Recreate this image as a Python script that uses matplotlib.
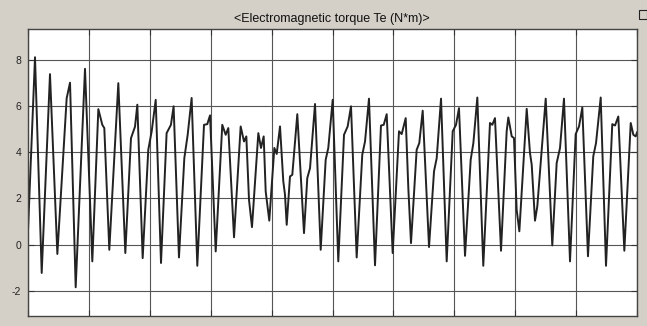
import matplotlib
matplotlib.use("Agg")
import matplotlib.pyplot as plt
from matplotlib.patches import Rectangle

title = "<Electromagnetic torque Te (N*m)>"

t = [0.000, 0.115, 0.225, 0.361, 0.482, 0.635, 0.690, 0.783, 0.936, 1.056,
     1.155, 1.220, 1.253, 1.335, 1.483, 1.598, 1.691, 1.757, 1.795, 1.883,
     1.975, 2.031, 2.097, 2.184, 2.276, 2.347, 2.391, 2.479, 2.567, 2.622,
     2.687, 2.780, 2.890, 2.944, 2.989, 3.082, 3.190, 3.246, 3.289, 3.383,
     3.492, 3.547, 3.585, 3.629, 3.678, 3.782, 3.826, 3.870, 3.903, 3.962,
     4.045, 4.084, 4.138, 4.192, 4.220, 4.248, 4.302, 4.340, 4.422, 4.532,
     4.586, 4.631, 4.713, 4.806, 4.888, 4.931, 5.003, 5.095, 5.189, 5.249,
     5.304, 5.397, 5.489, 5.534, 5.599, 5.698, 5.796, 5.841, 5.890, 5.988,
     6.092, 6.136, 6.202, 6.245, 6.289, 6.382, 6.425, 6.481, 6.585, 6.667,
     6.711, 6.782, 6.875, 6.974, 7.028, 7.077, 7.176, 7.269, 7.313, 7.378,
     7.476, 7.586, 7.624, 7.668, 7.767, 7.860, 7.887, 7.943, 7.980, 8.024,
     8.068, 8.189, 8.243, 8.271, 8.325, 8.363, 8.501, 8.609, 8.681, 8.736,
     8.801, 8.900, 8.993, 9.048, 9.102, 9.195, 9.282, 9.327, 9.404, 9.491,
     9.594, 9.639, 9.693, 9.792, 9.897, 9.940, 9.979, 10.000]

te = [0.60, 8.10, -1.22, 7.37, -0.40, 6.33, 7.00, -1.84, 7.60, -0.72,
      5.86, 5.18, 5.04, -0.22, 6.98, -0.36, 4.60, 5.10, 6.05, -0.58,
      4.10, 4.90, 6.26, -0.79, 4.82, 5.18, 5.98, -0.55, 3.74, 4.75,
      6.34, -0.91, 5.18, 5.21, 5.59, -0.29, 5.18, 4.75, 5.04, 0.32,
      5.11, 4.46, 4.68, 1.94, 0.76, 4.82, 4.18, 4.68, 2.30, 1.04,
      4.18, 3.92, 5.11, 2.74, 2.16, 0.86, 2.95, 3.02, 5.64, 0.50,
      2.88, 3.31, 6.08, -0.22, 3.67, 4.18, 6.26, -0.72, 4.75, 5.11,
      5.98, -0.55, 3.89, 4.46, 6.31, -0.89, 5.15, 5.18, 5.64, -0.36,
      4.90, 4.78, 5.47, 2.45, 0.07, 4.10, 4.39, 5.79, -0.10, 3.17,
      3.74, 6.31, -0.72, 4.90, 5.18, 5.90, -0.48, 3.67, 4.39, 6.36,
      -0.91, 5.26, 5.18, 5.47, -0.26, 4.90, 5.50, 4.68, 4.61, 1.51,
      0.58, 5.87, 3.96, 3.46, 1.04, 1.66, 6.31, -0.03, 3.53, 4.18,
      6.31, -0.72, 4.78, 5.11, 5.93, -0.50, 3.82, 4.39, 6.36, -0.91,
      5.21, 5.15, 5.54, -0.26, 5.26, 4.75, 4.68, 4.85]

yticks = [-2, 0, 2, 4, 6, 8]
ytick_labels = ["-2", "0", "2", "4", "6", "8"]
xticks = list(range(0, 11))

plt.rcParams['font.family'] = ['Liberation Sans', 'DejaVu Sans']

fig = plt.figure(figsize=(6.47, 3.26), dpi=100, facecolor='#d4d0c8')
ax = fig.add_axes([28 / 647, 10 / 326, 609 / 647, 287 / 326])
ax.set_facecolor('white')

ax.plot(t, te, color='#222222', lw=1.4, solid_joinstyle='round')

ax.set_xlim(0, 10)
ax.set_ylim(-3.08, 9.32)
ax.set_xticks(xticks)
ax.set_xticklabels([])
ax.set_yticks(yticks)
ax.set_yticklabels(ytick_labels, fontsize=7.5, color='#222222')
ax.grid(True, color='#555555', lw=0.8)
ax.set_axisbelow(True)
ax.tick_params(direction='in', length=4, width=0.8, color='#333333',
               top=True, right=True, bottom=True, left=True, pad=5)
for s in ax.spines.values():
    s.set_color('#444444')
    s.set_linewidth(1.0)

fig.text(332 / 647, 1 - 19 / 326, title, ha='center', va='center',
         fontsize=9, color='#111111')

# small scope icon at top-right
fig.patches.append(Rectangle((639 / 647, 1 - 19 / 326), 8 / 647, 9 / 326,
                             transform=fig.transFigure, fill=False,
                             edgecolor='#222222', lw=0.8))

fig.savefig('out.png', dpi=100, facecolor=fig.get_facecolor())
